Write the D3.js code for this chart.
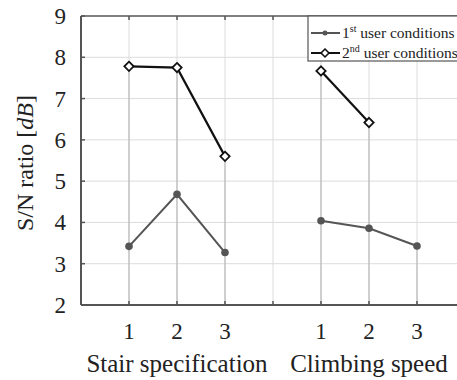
<!DOCTYPE html>
<html>
<head>
<meta charset="utf-8">
<script src="https://cdn.jsdelivr.net/npm/d3@7"></script>
<style>
  body { margin: 0; background: #fff; }
  svg { display: block; }
  text { font-family: "Liberation Serif", "DejaVu Serif", serif; fill: #222; }
</style>
</head>
<body>
<svg id="chart"></svg>
<script>
// data //////////////////////////////////////////////////////////////
var categories = ["Stair specification", "Climbing speed"];
var levels = ["1", "2", "3"];
var user1 = [[3.42, 4.68, 3.27], [4.04, 3.86, 3.43]];
var user2 = [[7.78, 7.75, 5.60], [7.67, 6.42, null]];
var yTicks = [2, 3, 4, 5, 6, 7, 8, 9];
var seriesNames = ["st", "nd"]; // superscripts for legend

// setup //////////////////////////////////////////////////////////////
var W = 457, H = 380;
var LEFT = 81, TOP = 16, BOTTOM = 305;

var svg = d3.select("#chart").attr("width", W).attr("height", H);

// x: 4 slots per group, a gap slot between groups
var x = d3.scaleLinear().domain([0, 8]).range([LEFT, 465]);
var y = d3.scaleLinear().domain([2, 9]).range([BOTTOM, TOP]);

function pos(g, i) { return g * 4 + i + 1; }

// grid
var gridX = d3.range(1, 8);
svg.append("g").selectAll("line").data(yTicks.slice(1, -1)).enter().append("line")
    .attr("x1", LEFT).attr("x2", W)
    .attr("y1", function (d) { return y(d); }).attr("y2", function (d) { return y(d); })
    .attr("stroke", "#dcdcdc").attr("stroke-width", 1);
svg.append("g").selectAll("line").data(gridX).enter().append("line")
    .attr("x1", function (d) { return x(d); }).attr("x2", function (d) { return x(d); })
    .attr("y1", TOP).attr("y2", BOTTOM)
    .attr("stroke", "#dcdcdc").attr("stroke-width", 1);

// stems from highest marker down to the axis
var stems = [];
categories.forEach(function (c, g) {
    levels.forEach(function (l, i) {
        var top = d3.max([user1[g][i], user2[g][i]]);
        stems.push({ p: pos(g, i), v: top });
    });
});
svg.append("g").selectAll("line").data(stems).enter().append("line")
    .attr("x1", function (d) { return x(d.p); }).attr("x2", function (d) { return x(d.p); })
    .attr("y1", function (d) { return y(d.v); }).attr("y2", BOTTOM)
    .attr("stroke", "#bbb").attr("stroke-width", 1.2);

// frame
svg.append("line").attr("x1", LEFT).attr("x2", W).attr("y1", TOP).attr("y2", TOP)
    .attr("stroke", "#555").attr("stroke-width", 1.5);
svg.append("line").attr("x1", LEFT).attr("x2", W).attr("y1", BOTTOM).attr("y2", BOTTOM)
    .attr("stroke", "#555").attr("stroke-width", 2);
svg.append("line").attr("x1", LEFT).attr("x2", LEFT).attr("y1", TOP).attr("y2", BOTTOM)
    .attr("stroke", "#555").attr("stroke-width", 2);

// small inward ticks
svg.append("g").selectAll("line").data(gridX).enter().append("line")
    .attr("x1", function (d) { return x(d); }).attr("x2", function (d) { return x(d); })
    .attr("y1", BOTTOM).attr("y2", BOTTOM - 4)
    .attr("stroke", "#555").attr("stroke-width", 1.5);
svg.append("g").selectAll("line").data(gridX).enter().append("line")
    .attr("x1", function (d) { return x(d); }).attr("x2", function (d) { return x(d); })
    .attr("y1", TOP).attr("y2", TOP + 4)
    .attr("stroke", "#555").attr("stroke-width", 1.5);
svg.append("g").selectAll("line").data(yTicks).enter().append("line")
    .attr("x1", LEFT).attr("x2", LEFT + 4)
    .attr("y1", function (d) { return y(d); }).attr("y2", function (d) { return y(d); })
    .attr("stroke", "#555").attr("stroke-width", 1.5);

// y tick labels
svg.append("g").selectAll("text").data(yTicks).enter().append("text")
    .attr("x", 66).attr("y", function (d) { return y(d); })
    .attr("dy", "0.35em").attr("text-anchor", "end")
    .style("font-size", "23px")
    .text(function (d) { return d; });

// y label
var yl = svg.append("text")
    .attr("transform", "translate(33,163) rotate(-90)")
    .attr("text-anchor", "middle")
    .style("font-size", "24px");
yl.append("tspan").text("S/N ratio [");
yl.append("tspan").style("font-style", "italic").text("dB");
yl.append("tspan").text("]");

// x tick labels + group labels
categories.forEach(function (c, g) {
    svg.append("g").selectAll("text").data(levels).enter().append("text")
        .attr("x", function (d, i) { return x(pos(g, i)); })
        .attr("y", 339).attr("text-anchor", "middle")
        .style("font-size", "23px")
        .text(function (d) { return d; });
    svg.append("text")
        .attr("x", x(pos(g, 1))).attr("y", 372).attr("text-anchor", "middle")
        .style("font-size", "25px")
        .text(c);
});

// series
var line = d3.line()
    .defined(function (d) { return d.v !== null; })
    .x(function (d) { return x(d.p); })
    .y(function (d) { return y(d.v); });

function pts(arr, g) {
    return arr[g].map(function (v, i) { return { p: pos(g, i), v: v }; });
}

categories.forEach(function (c, g) {
    // 1st user conditions
    svg.append("path").datum(pts(user1, g)).attr("d", line)
        .attr("fill", "none").attr("stroke", "#555").attr("stroke-width", 2);
    svg.append("g").selectAll("circle").data(pts(user1, g)).enter().append("circle")
        .attr("cx", function (d) { return x(d.p); }).attr("cy", function (d) { return y(d.v); })
        .attr("r", 3.8).attr("fill", "#555");
    // 2nd user conditions
    var p2 = pts(user2, g).filter(function (d) { return d.v !== null; });
    svg.append("path").datum(p2).attr("d", line)
        .attr("fill", "none").attr("stroke", "#111").attr("stroke-width", 2.2);
    svg.append("g").selectAll("path").data(p2).enter().append("path")
        .attr("d", d3.symbol().type(d3.symbolDiamond2).size(55))
        .attr("transform", function (d) { return "translate(" + x(d.p) + "," + y(d.v) + ")"; })
        .attr("fill", "#fff").attr("stroke", "#111").attr("stroke-width", 1.8);
});

// legend
var lg = svg.append("g").attr("transform", "translate(308," + TOP + ")");
lg.append("rect").attr("x", 0).attr("y", 0).attr("width", 160).attr("height", 45)
    .attr("fill", "#fff").attr("stroke", "#555").attr("stroke-width", 1.2);
seriesNames.forEach(function (s, i) {
    var ly = 17 + i * 20;
    lg.append("line").attr("x1", 3).attr("x2", 32).attr("y1", ly).attr("y2", ly)
        .attr("stroke", i === 0 ? "#555" : "#111").attr("stroke-width", 2);
    if (i === 0) {
        lg.append("circle").attr("cx", 17).attr("cy", ly).attr("r", 2.5).attr("fill", "#555");
    } else {
        lg.append("path").attr("d", d3.symbol().type(d3.symbolDiamond2).size(40))
            .attr("transform", "translate(17," + ly + ")")
            .attr("fill", "#fff").attr("stroke", "#111").attr("stroke-width", 1.6);
    }
    var t = lg.append("text").attr("x", 34).attr("y", ly + 5).style("font-size", "15.5px");
    t.append("tspan").text(String(i + 1));
    t.append("tspan").attr("dy", -6).style("font-size", "10px").text(s);
    t.append("tspan").attr("dy", 6).text(" user conditions");
});
</script>
</body>
</html>
